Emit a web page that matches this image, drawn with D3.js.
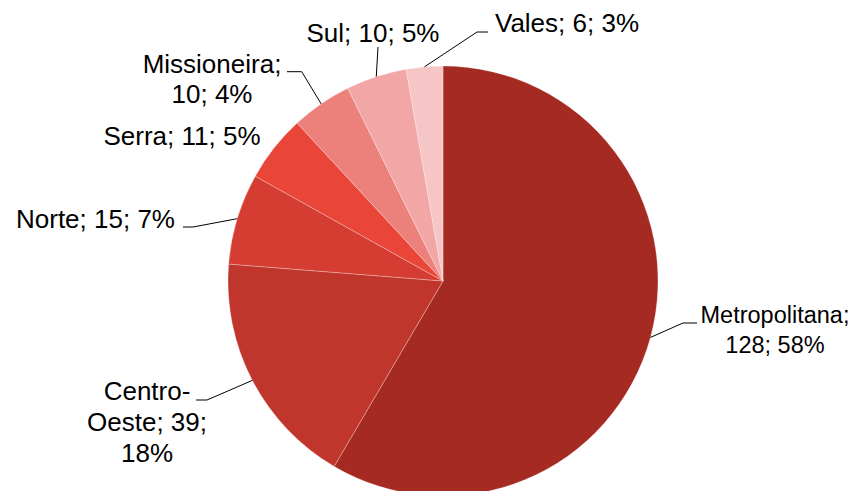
<!DOCTYPE html>
<html><head><meta charset="utf-8">
<script src="https://cdn.jsdelivr.net/npm/d3@7"></script>
<style>body{margin:0;background:#fff}svg{display:block}</style>
</head><body>
<svg id="c" width="867" height="491"></svg>
<script>
const categories = ["Metropolitana","Centro-Oeste","Norte","Serra","Missioneira","Sul","Vales"];
const values = [128,39,15,11,10,10,6];
const percentLabels = ["58%","18%","7%","5%","4%","5%","3%"];
const colors = ["#A52A22","#C0362D","#D53D32","#E94539","#EC817B","#F2A7A6","#F6C5C6"];

// label layout (text lines, anchor, baselines, leader elbow/end)
const labelLayout = [
  {lines:["Metropolitana;","128; 58%"], x:775, y:[323,353], fs:23.5, leader:[[683,323],[697,323]]},
  {lines:["Centro-","Oeste; 39;","18%"], x:147, y:[400,431,462], fs:26, leader:[[207,400],[196,400]]},
  {lines:["Norte; 15; 7%"], x:95.5, y:[228], fs:26, leader:[[193,227],[183,227]]},
  {lines:["Serra; 11; 5%"], x:182, y:[145], fs:26, leader:null},
  {lines:["Missioneira;","10; 4%"], x:212, y:[73,103], fs:26, leader:[[301.7,71.7],[287,71.7]]},
  {lines:["Sul; 10; 5%"], x:373, y:[42], fs:26, leader:[[378,47]]},
  {lines:["Vales; 6; 3%"], x:567, y:[32], fs:26, leader:[[477,32],[488,32]]}
];

const svg = d3.select("#c");
const cx = 443, cy = 281, R = 215;
const g = svg.append("g").attr("transform", `translate(${cx},${cy})`);
const data = categories.map((c,i)=>({name:c, value:values[i], pct:percentLabels[i], color:colors[i], i}));
const pie = d3.pie().sort(null).value(d=>d.value);
const arcs = pie(data);
const arc = d3.arc().innerRadius(0).outerRadius(R);

g.selectAll("path.slice").data(arcs).join("path")
  .attr("class","slice")
  .attr("d", arc)
  .attr("fill", d=>d.data.color)
  .attr("stroke", "rgba(255,255,255,0.35)")
  .attr("stroke-width", 0.8);

// leaders
arcs.forEach((a,i)=>{
  const L = labelLayout[i];
  if(!L.leader) return;
  const m = (a.startAngle + a.endAngle)/2;
  const p0 = [cx + R*Math.sin(m), cy - R*Math.cos(m)];
  const pts = [p0].concat(L.leader);
  svg.append("path")
    .attr("d", d3.line()(pts))
    .attr("fill","none")
    .attr("stroke","#000")
    .attr("stroke-width",1);
});

// labels
labelLayout.forEach((L,i)=>{
  const t = svg.append("text")
    .attr("text-anchor","middle")
    .attr("font-family","'Liberation Sans', Arial, sans-serif")
    .attr("font-size", L.fs)
    .attr("fill","#000");
  L.lines.forEach((ln,j)=>{
    t.append("tspan").attr("x", L.x).attr("y", L.y[j]).text(ln);
  });
});
</script>
</body></html>
